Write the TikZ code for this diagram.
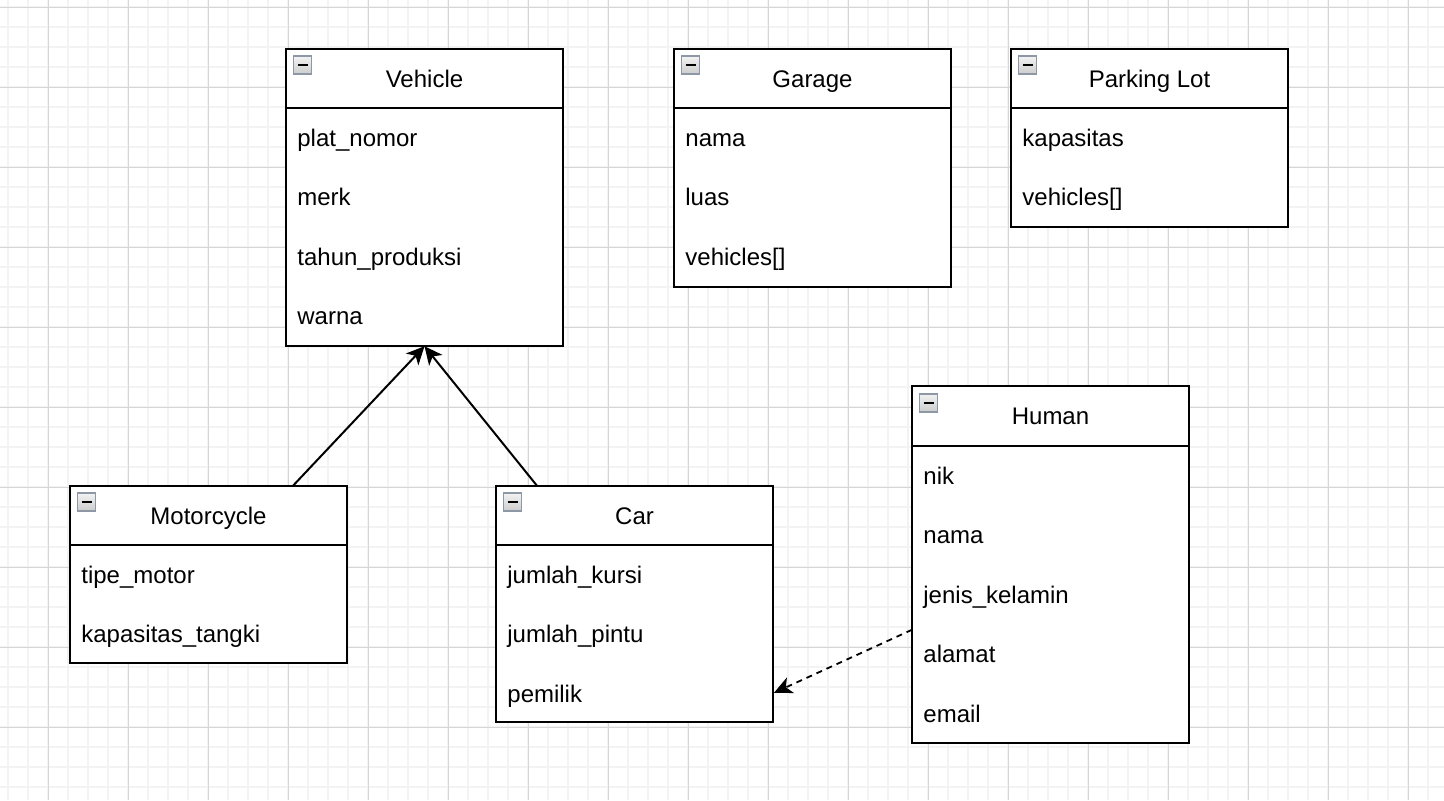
\documentclass[tikz,border=0pt]{standalone}
\usepackage{fontspec}
\setmainfont{Liberation Sans}
\usepackage{tikz}
\usetikzlibrary{arrows.meta,positioning}

\definecolor{gridminor}{HTML}{F3F3F3}
\definecolor{gridmajor}{HTML}{D6D6D6}
\definecolor{foldline}{HTML}{8E97A5}

\begin{document}
\begin{tikzpicture}[x=0.5pt, y=-0.5pt,
	classhead/.style={draw, line width=1pt, fill=white, minimum width=138.5pt, minimum height=29.75pt,
		inner sep=0pt, outer sep=0pt, text height=8.5pt, text depth=0pt, font=\fontsize{12}{14}\selectfont},
	classbody/.style={draw, line width=1pt, fill=white, minimum width=138.5pt, inner sep=0pt, outer sep=0pt},
	attr/.style={anchor=base west, inner sep=0pt, font=\fontsize{12}{14}\selectfont},
	fold/.style={draw=foldline, line width=0.8pt, top color=gray!10, bottom color=gray!40,
		minimum width=9pt, minimum height=9pt, inner sep=0pt, outer sep=0pt,
		path picture={\draw[black, line width=1.1pt] ([xshift=2pt]path picture bounding box.west) -- ([xshift=-2pt]path picture bounding box.east);}},
	inherit/.style={line width=1pt, -{Stealth[length=9pt, width=8.5pt, inset=2.5pt]}},
	uses/.style={line width=0.9pt, dash pattern=on 3pt off 2.5pt, -{Stealth[length=9pt, width=8.5pt, inset=2.5pt]}}]

	% Background and grid
	\fill[white] (0,0) rectangle (1444,800);
	\useasboundingbox (0,0) rectangle (1444,800);
	\foreach \gx in {8,28,...,1440}
		\draw[gridminor, line width=1pt] (\gx,0) -- (\gx,800);
	\foreach \gy in {7,27,...,800}
		\draw[gridminor, line width=1pt] (0,\gy) -- (1444,\gy);
	\foreach \gx in {48,128,...,1440}
		\draw[gridmajor, line width=0.5pt] (\gx,0) -- (\gx,800);
	\foreach \gy in {7,87,...,800}
		\draw[gridmajor, line width=0.5pt] (0,\gy) -- (1444,\gy);

	% Vehicle
	\node[classhead] (veh) at (424.5,78.5) {Vehicle};
	\node[classbody, minimum height=119pt, below=0pt of veh] (veh-body) {};
	\node[fold] (veh-fold) at ([shift={(16.5,16.5)}]veh.north west) {};
	\node[attr] (veh-a1) at (297,146) {plat\_nomor};
	\node[attr] (veh-a2) at (297,205) {merk};
	\node[attr] (veh-a3) at (297,265) {tahun\_produksi};
	\node[attr] (veh-a4) at (297,324) {warna};

	% Garage
	\node[classhead] (gar) at (812.5,78.5) {Garage};
	\node[classbody, minimum height=89.25pt, below=0pt of gar] (gar-body) {};
	\node[fold] (gar-fold) at ([shift={(16.5,16.5)}]gar.north west) {};
	\node[attr] (gar-a1) at (685,146) {nama};
	\node[attr] (gar-a2) at (685,205) {luas};
	\node[attr] (gar-a3) at (685,265) {vehicles[]};

	% Parking Lot
	\node[classhead] (park) at (1149.5,78.5) {Parking Lot};
	\node[classbody, minimum height=59.5pt, below=0pt of park] (park-body) {};
	\node[fold] (park-fold) at ([shift={(16.5,16.5)}]park.north west) {};
	\node[attr] (park-a1) at (1022,146) {kapasitas};
	\node[attr] (park-a2) at (1022,205) {vehicles[]};

	% Motorcycle
	\node[classhead] (moto) at (208.5,515.5) {Motorcycle};
	\node[classbody, minimum height=59pt, below=0pt of moto] (moto-body) {};
	\node[fold] (moto-fold) at ([shift={(16.5,16.5)}]moto.north west) {};
	\node[attr] (moto-a1) at (81,583) {tipe\_motor};
	\node[attr] (moto-a2) at (81,642) {kapasitas\_tangki};

	% Car
	\node[classhead] (car) at (634.5,515.5) {Car};
	\node[classbody, minimum height=88.5pt, below=0pt of car] (car-body) {};
	\node[fold] (car-fold) at ([shift={(16.5,16.5)}]car.north west) {};
	\node[attr] (car-a1) at (507,583) {jumlah\_kursi};
	\node[attr] (car-a2) at (507,642) {jumlah\_pintu};
	\node[attr] (car-a3) at (507,702) {pemilik};

	% Human
	\node[classhead] (hum) at (1050.5,416) {Human};
	\node[classbody, minimum height=148.5pt, below=0pt of hum] (hum-body) {};
	\node[fold] (hum-fold) at ([shift={(16.5,16.5)}]hum.north west) {};
	\node[attr] (hum-a1) at (923,484) {nik};
	\node[attr] (hum-a2) at (923,543) {nama};
	\node[attr] (hum-a3) at (923,603) {jenis\_kelamin};
	\node[attr] (hum-a4) at (923,662) {alamat};
	\node[attr] (hum-a5) at (923,722) {email};

	% Inheritance arrows
	\path (moto.north) ++(84.5,0) coordinate (moto-out);
	\path (car.north) ++(-97.5,0) coordinate (car-out);
	\draw[inherit] (moto-out) -- (veh-body.south);
	\draw[inherit] (car-out) -- (veh-body.south);

	% Human -> Car (dashed)
	\path (hum-body.west) ++(0,35.5) coordinate (hum-out);
	\path (car-body.east) ++(1,59) coordinate (car-in);
	\draw[uses] (hum-out) -- (car-in);

\end{tikzpicture}
\end{document}
